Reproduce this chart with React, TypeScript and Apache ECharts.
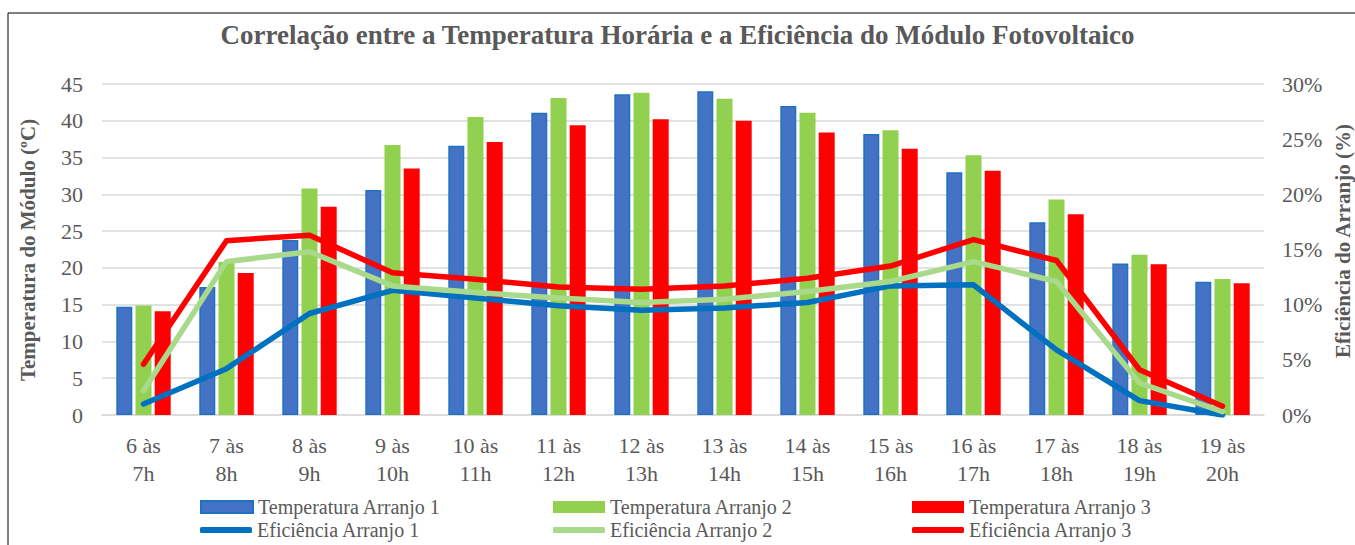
import React, { useEffect, useRef } from "react";
import * as echarts from "echarts";

const categories = [
  "6 às\n7h", "7 às\n8h", "8 às\n9h", "9 às\n10h", "10 às\n11h", "11 às\n12h", "12 às\n13h",
  "13 às\n14h", "14 às\n15h", "15 às\n16h", "16 às\n17h", "17 às\n18h", "18 às\n19h", "19 às\n20h",
];

const temp1 = [14.7, 17.4, 23.8, 30.6, 36.6, 41.1, 43.6, 44.0, 42.0, 38.2, 33.0, 26.2, 20.6, 18.1];
const temp2 = [14.9, 20.8, 30.8, 36.7, 40.5, 43.1, 43.8, 43.0, 41.1, 38.7, 35.3, 29.3, 21.8, 18.5];
const temp3 = [14.1, 19.3, 28.3, 33.5, 37.1, 39.4, 40.2, 40.0, 38.4, 36.2, 33.2, 27.3, 20.5, 17.9];

const eff1 = [1.0, 4.2, 9.2, 11.3, 10.6, 9.9, 9.5, 9.7, 10.2, 11.7, 11.8, 5.9, 1.3, 0.0];
const eff2 = [2.2, 13.9, 14.8, 11.7, 11.1, 10.6, 10.2, 10.5, 11.2, 12.1, 13.9, 12.1, 2.9, 0.3];
const eff3 = [4.6, 15.8, 16.3, 12.9, 12.3, 11.6, 11.4, 11.7, 12.4, 13.5, 15.9, 14.0, 4.1, 0.8];

const seriesNames = [
  "Temperatura Arranjo 1",
  "Temperatura Arranjo 2",
  "Temperatura Arranjo 3",
  "Eficiência Arranjo 1",
  "Eficiência Arranjo 2",
  "Eficiência Arranjo 3",
];

const FONT = "'Liberation Serif', 'Times New Roman', serif";
const GREY = "#595959";

export default function App() {
  const ref = useRef<HTMLDivElement>(null);

  useEffect(() => {
    if (!ref.current) return;
    const chart = echarts.init(ref.current, null, { renderer: "svg" });

    const legendPos = [
      [200, 497], [553, 497], [912, 497],
      [200, 520], [553, 520], [912, 520],
    ];

    const option: any = {
      animation: false,
      backgroundColor: "#ffffff",
      title: {
        text: "Correlação entre a Temperatura Horária e a Eficiência do Módulo Fotovoltaico",
        left: "center",
        top: 21,
        padding: 0,
        textStyle: { fontFamily: FONT, fontSize: 27, fontWeight: "bold", color: GREY },
      },
      legend: legendPos.map((p, i) => ({
        data: [seriesNames[i]],
        left: p[0],
        top: p[1],
        padding: 0,
        itemWidth: 52,
        itemHeight: i < 3 ? 12 : 6,
        icon: i < 3 ? "rect" : "roundRect",
        itemGap: 4,
        selectedMode: false,
        textStyle: {
          fontFamily: FONT,
          fontSize: 20,
          lineHeight: 20,
          color: GREY,
          padding: [0, 0, 0, 0],
        },
      })),
      grid: {
        left: 102,
        right: 91,
        top: 84,
        bottom: 130,
        containLabel: false,
        outerBoundsMode: "none",
      },
      xAxis: {
        type: "category",
        data: categories,
        axisLine: { show: true, lineStyle: { color: "#d9d9d9", width: 1.5 } },
        axisTick: { show: false },
        axisLabel: {
          fontFamily: FONT,
          fontSize: 22,
          color: GREY,
          lineHeight: 28,
          margin: 16,
          interval: 0,
        },
      },
      yAxis: [
        {
          type: "value",
          min: 0,
          max: 45,
          interval: 5,
          axisLine: { show: false },
          axisTick: { show: false },
          splitLine: { lineStyle: { color: "#d9d9d9", width: 1.5 } },
          axisLabel: { fontFamily: FONT, fontSize: 22, color: GREY, margin: 19 },
        },
        {
          type: "value",
          min: 0,
          max: 30,
          interval: 5,
          position: "right",
          axisLine: { show: false },
          axisTick: { show: false },
          splitLine: { show: false },
          axisLabel: {
            fontFamily: FONT,
            fontSize: 22,
            color: GREY,
            margin: 18,
            formatter: "{value}%",
          },
        },
      ],
      graphic: [
        {
          type: "line",
          shape: { x1: 8, y1: 13, x2: 1355, y2: 13 },
          style: { stroke: "#000000", lineWidth: 1 },
        },
        {
          type: "line",
          shape: { x1: 8, y1: 13, x2: 8, y2: 545 },
          style: { stroke: "#000000", lineWidth: 1 },
        },
        {
          type: "text",
          x: 28,
          y: 250,
          rotation: Math.PI / 2,
          style: {
            text: "Temperatura do Módulo (ºC)",
            fontFamily: FONT,
            fontSize: 21,
            fontWeight: "bold",
            fill: GREY,
            textAlign: "center",
            textVerticalAlign: "middle",
          },
        },
        {
          type: "text",
          x: 1343,
          y: 241,
          rotation: Math.PI / 2,
          style: {
            text: "Eficiência do Arranjo (%)",
            fontFamily: FONT,
            fontSize: 21,
            fontWeight: "bold",
            fill: GREY,
            textAlign: "center",
            textVerticalAlign: "middle",
          },
        },
      ],
      series: [
        {
          name: seriesNames[0],
          type: "bar",
          data: temp1,
          barWidth: 16,
          barGap: "20%",
          itemStyle: { color: "#4472c4", borderColor: "#1f72c2", borderWidth: 1.5 },
        },
        {
          name: seriesNames[1],
          type: "bar",
          data: temp2,
          barWidth: 16,
          barGap: "20%",
          itemStyle: { color: "#92d050" },
        },
        {
          name: seriesNames[2],
          type: "bar",
          data: temp3,
          barWidth: 16,
          barGap: "20%",
          itemStyle: { color: "#ff0000" },
        },
        {
          name: seriesNames[3],
          type: "line",
          yAxisIndex: 1,
          data: eff1,
          symbol: "none",
          lineStyle: { color: "#0070c0", width: 5.5, cap: "round", join: "round" },
          itemStyle: { color: "#0070c0" },
          z: 5,
        },
        {
          name: seriesNames[4],
          type: "line",
          yAxisIndex: 1,
          data: eff2,
          symbol: "none",
          lineStyle: { color: "#a9d98a", width: 5.5, cap: "round", join: "round" },
          itemStyle: { color: "#a9d98a" },
          z: 6,
        },
        {
          name: seriesNames[5],
          type: "line",
          yAxisIndex: 1,
          data: eff3,
          symbol: "none",
          lineStyle: { color: "#ff0000", width: 5.5, cap: "round", join: "round" },
          itemStyle: { color: "#ff0000" },
          z: 7,
        },
      ],
    };

    chart.setOption(option);
    return () => chart.dispose();
  }, []);

  return (
    <div
      ref={ref}
      style={{ position: "fixed", left: 0, top: 0, width: 1355, height: 545, background: "#fff" }}
    />
  );
}
